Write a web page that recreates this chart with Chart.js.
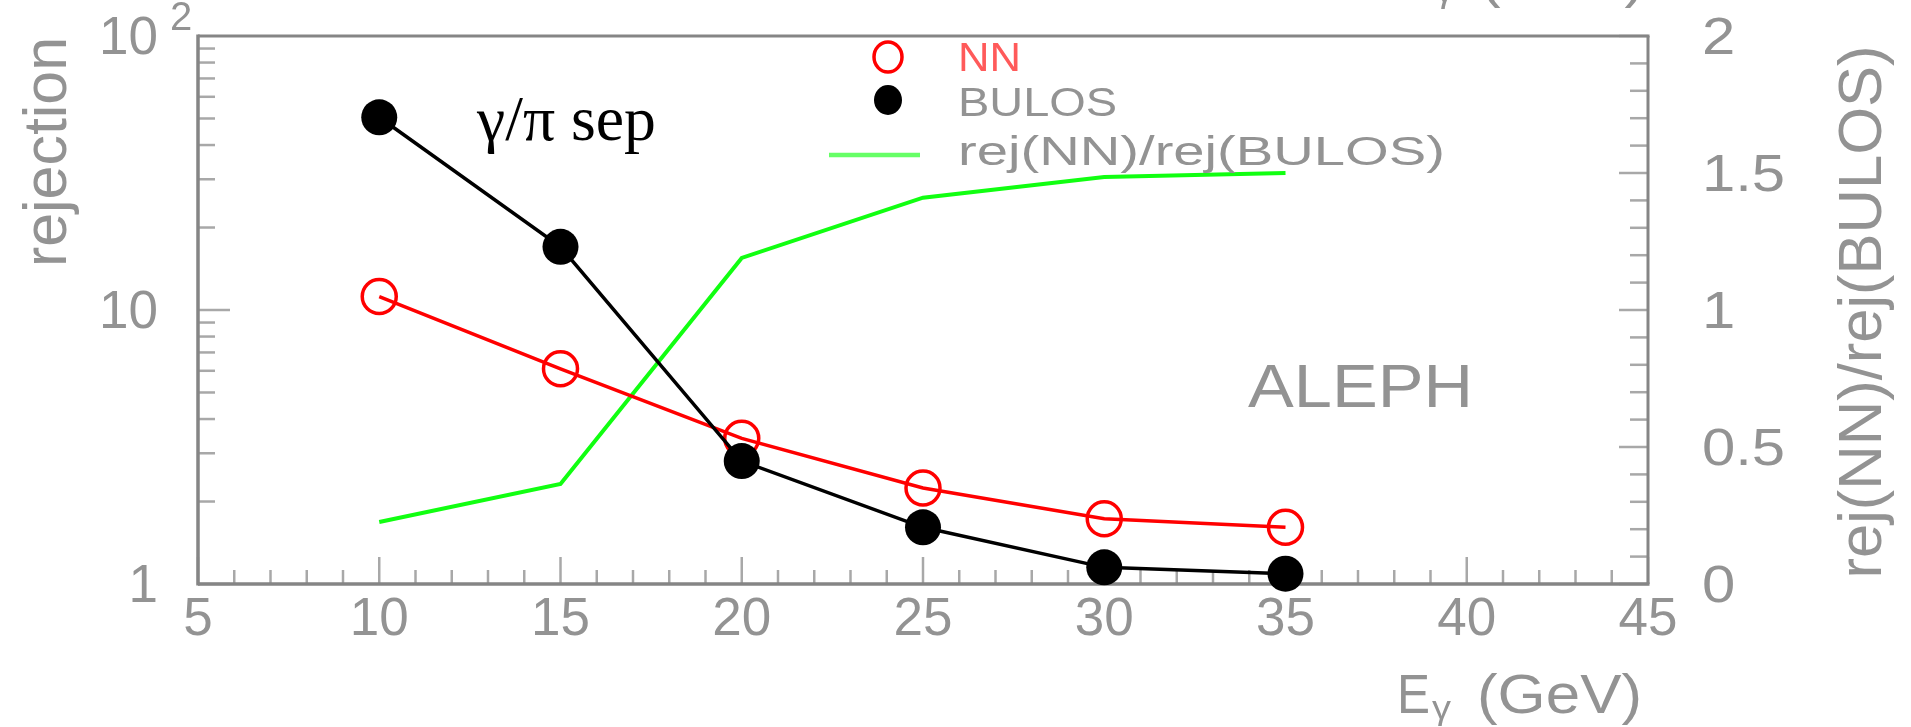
<!DOCTYPE html>
<html>
<head>
<meta charset="utf-8">
<script src="https://cdn.jsdelivr.net/npm/chart.js@4.4.1/dist/chart.umd.min.js"></script>
<style>
  html, body { margin: 0; padding: 0; background: #fff; }
  #grafico { display: block; }
</style>
</head>
<body>
<canvas id="grafico" width="1911" height="727"></canvas>
<script>
// energies (GeV) and rejections
const energies = [10, 15, 20, 25, 30, 35]
const rejNN = [11.2, 6.1, 3.4, 2.24, 1.73, 1.61]
const rejBULOS = [50.5, 17.0, 2.81, 1.61, 1.15, 1.09]
const ratio = [0.226, 0.365, 1.19, 1.41, 1.485, 1.5]

const xTicks = [5, 10, 15, 20, 25, 30, 35, 40, 45]
const xTickLabels = ['5', '10', '15', '20', '25', '30', '35', '40', '45']
const yTicks = [1, 10, 100]
const yTickLabels = ['1', '10', '10']
const yTickExps = ['', '', '2']
const y2Ticks = [0, 0.5, 1, 1.5, 2]
const y2TickLabels = ['0', '0.5', '1', '1.5', '2']

const grafico = document.getElementById('grafico').getContext('2d')
const gray = '#939393'
const tickGray = '#a8a8a8'

function fitText(ctx, s, x, y, w, align) {
  const m = ctx.measureText(s).width
  ctx.save()
  ctx.translate(x, y)
  ctx.scale(w / m, 1)
  ctx.textAlign = 'left'
  let x0 = 0
  if (align === 'center') x0 = -m / 2
  if (align === 'right') x0 = -m
  ctx.fillText(s, x0, 0)
  ctx.restore()
}

function line(ctx, x1, y1, x2, y2) {
  ctx.beginPath()
  ctx.moveTo(x1, y1)
  ctx.lineTo(x2, y2)
  ctx.stroke()
}

// E_gamma (GeV) title, also repeated cut off at the top edge
function energyTitle(ctx, x, base) {
  ctx.fillStyle = gray
  ctx.textBaseline = 'alphabetic'
  ctx.font = '56px "Liberation Sans", Arial, sans-serif'
  fitText(ctx, 'E', x, base, 33, 'left')
  ctx.font = '34px "Liberation Sans", Arial, sans-serif'
  fitText(ctx, 'γ', x + 35, base + 6, 19, 'left')
  ctx.font = '56px "Liberation Sans", Arial, sans-serif'
  fitText(ctx, '(GeV)', x + 80, base, 165, 'left')
}

const frame = {
  id: 'frame',
  beforeDatasetsDraw(chart) {
    const ctx = chart.ctx
    const xs = chart.scales.x, ys = chart.scales.y, y2 = chart.scales.y2
    const a = chart.chartArea
    ctx.save()
    ctx.lineCap = 'butt'

    // ticks, all pointing inward
    ctx.strokeStyle = tickGray
    ctx.lineWidth = 2.5
    for (let v = xTicks[0]; v <= xTicks[xTicks.length - 1]; v++) {
      const px = xs.getPixelForValue(v)
      const len = xTicks.includes(v) ? 27 : 14
      line(ctx, px, a.bottom, px, a.bottom - len)
    }
    for (let d = 0; d < yTicks.length - 1; d++) {
      for (let k = 1; k < 10; k++) {
        const v = yTicks[d] * k
        const py = ys.getPixelForValue(v)
        line(ctx, a.left, py, a.left + (k === 1 ? 32 : 17), py)
      }
    }
    for (let i = 0; i <= 20; i++) {
      const v = i / 10
      const py = y2.getPixelForValue(v)
      line(ctx, a.right, py, a.right - (i % 5 === 0 ? 29 : 18), py)
    }

    // frame
    ctx.strokeStyle = '#858585'
    ctx.lineWidth = 3.5
    line(ctx, a.left, a.top - 1.5, a.left, a.bottom + 1.5)
    line(ctx, a.left, a.bottom, a.right + 1.5, a.bottom)
    ctx.lineWidth = 3
    line(ctx, a.left, a.top, a.right + 1.5, a.top)
    line(ctx, a.right, a.top, a.right, a.bottom)
    ctx.restore()
  },
  afterDraw(chart) {
    const ctx = chart.ctx
    const xs = chart.scales.x, ys = chart.scales.y, y2 = chart.scales.y2
    const a = chart.chartArea
    ctx.save()
    ctx.fillStyle = gray
    ctx.textBaseline = 'alphabetic'

    // tick labels
    ctx.font = '53px "Liberation Sans", Arial, sans-serif'
    ctx.textAlign = 'center'
    xTicks.forEach((v, i) => {
      ctx.fillText(xTickLabels[i], xs.getPixelForValue(v), a.bottom + 51)
    })
    yTicks.forEach((v, i) => {
      const py = ys.getPixelForValue(v)
      ctx.font = '53px "Liberation Sans", Arial, sans-serif'
      ctx.textAlign = 'right'
      ctx.fillText(yTickLabels[i], a.left - 40, py + 18)
      if (yTickExps[i]) {
        ctx.font = '40px "Liberation Sans", Arial, sans-serif'
        ctx.textAlign = 'left'
        ctx.fillText(yTickExps[i], a.left - 28, py - 6)
      }
    })
    ctx.font = '52px "Liberation Sans", Arial, sans-serif'
    y2Ticks.forEach((v, i) => {
      const py = y2.getPixelForValue(v)
      const s = y2TickLabels[i]
      const w = ctx.measureText(s).width * 1.15
      fitText(ctx, s, a.right + 54, py + 18, w, 'left')
    })

    // axis titles
    ctx.font = '61px "Liberation Sans", Arial, sans-serif'
    ctx.save()
    ctx.translate(66, 152)
    ctx.rotate(-Math.PI / 2)
    fitText(ctx, 'rejection', 0, 0, 230, 'center')
    ctx.restore()
    ctx.save()
    ctx.translate(1881, 312)
    ctx.rotate(-Math.PI / 2)
    fitText(ctx, 'rej(NN)/rej(BULOS)', 0, 0, 533, 'center')
    ctx.restore()
    energyTitle(ctx, 1397, 713)
    energyTitle(ctx, 1400, -4)

    // ALEPH
    ctx.fillStyle = gray
    ctx.font = '62px "Liberation Sans", Arial, sans-serif'
    fitText(ctx, 'ALEPH', 1248, 407, 225, 'left')

    // gamma/pi sep
    ctx.fillStyle = '#000'
    ctx.font = '64px "Liberation Serif", "Times New Roman", serif'
    fitText(ctx, 'γ/π sep', 477, 140, 179, 'left')

    // legend
    ctx.strokeStyle = '#ff0000'
    ctx.lineWidth = 3.5
    ctx.beginPath()
    ctx.ellipse(888, 57, 14, 15, 0, 0, Math.PI * 2)
    ctx.stroke()
    ctx.fillStyle = '#000'
    ctx.beginPath()
    ctx.ellipse(888, 100, 14, 15, 0, 0, Math.PI * 2)
    ctx.fill()
    ctx.strokeStyle = '#66ff66'
    ctx.lineWidth = 4.5
    line(ctx, 829, 155, 920, 155)
    ctx.font = '40px "Liberation Sans", Arial, sans-serif'
    ctx.fillStyle = '#ff5a5a'
    fitText(ctx, 'NN', 958, 71, 63, 'left')
    ctx.fillStyle = gray
    fitText(ctx, 'BULOS', 958, 116, 159, 'left')
    fitText(ctx, 'rej(NN)/rej(BULOS)', 958, 165, 487, 'left')
    ctx.restore()
  }
}

const toPoints = (xv, yv) => xv.map((x, i) => ({ x: x, y: yv[i] }))

const meuGrafico = new Chart(grafico, {
  type: 'line',
  data: {
    datasets: [
      {
        label: 'BULOS',
        data: toPoints(energies, rejBULOS),
        yAxisID: 'y',
        borderColor: '#000000',
        borderWidth: 3.5,
        pointRadius: 18,
        pointBackgroundColor: '#000000',
        pointBorderColor: '#000000',
        pointBorderWidth: 0,
        clip: false,
        order: 0
      },
      {
        label: 'NN',
        data: toPoints(energies, rejNN),
        yAxisID: 'y',
        borderColor: '#ff0000',
        borderWidth: 3.5,
        pointRadius: 17,
        pointBackgroundColor: 'rgba(0,0,0,0)',
        pointBorderColor: '#ff0000',
        pointBorderWidth: 3.5,
        clip: false,
        order: 1
      },
      {
        label: 'rej(NN)/rej(BULOS)',
        data: toPoints(energies, ratio),
        yAxisID: 'y2',
        borderColor: '#11ff11',
        borderWidth: 4,
        pointRadius: 0,
        clip: false,
        order: 2
      }
    ]
  },
  options: {
    responsive: false,
    animation: false,
    devicePixelRatio: 1,
    layout: { padding: { left: 198, right: 263, top: 36, bottom: 143 } },
    plugins: { legend: { display: false }, tooltip: { enabled: false } },
    elements: { line: { tension: 0 } },
    scales: {
      x: { type: 'linear', min: 5, max: 45, display: false },
      y: { type: 'logarithmic', min: 1, max: 100, display: false },
      y2: { type: 'linear', min: 0, max: 2, display: false, position: 'right' }
    }
  },
  plugins: [frame]
})
</script>
</body>
</html>
